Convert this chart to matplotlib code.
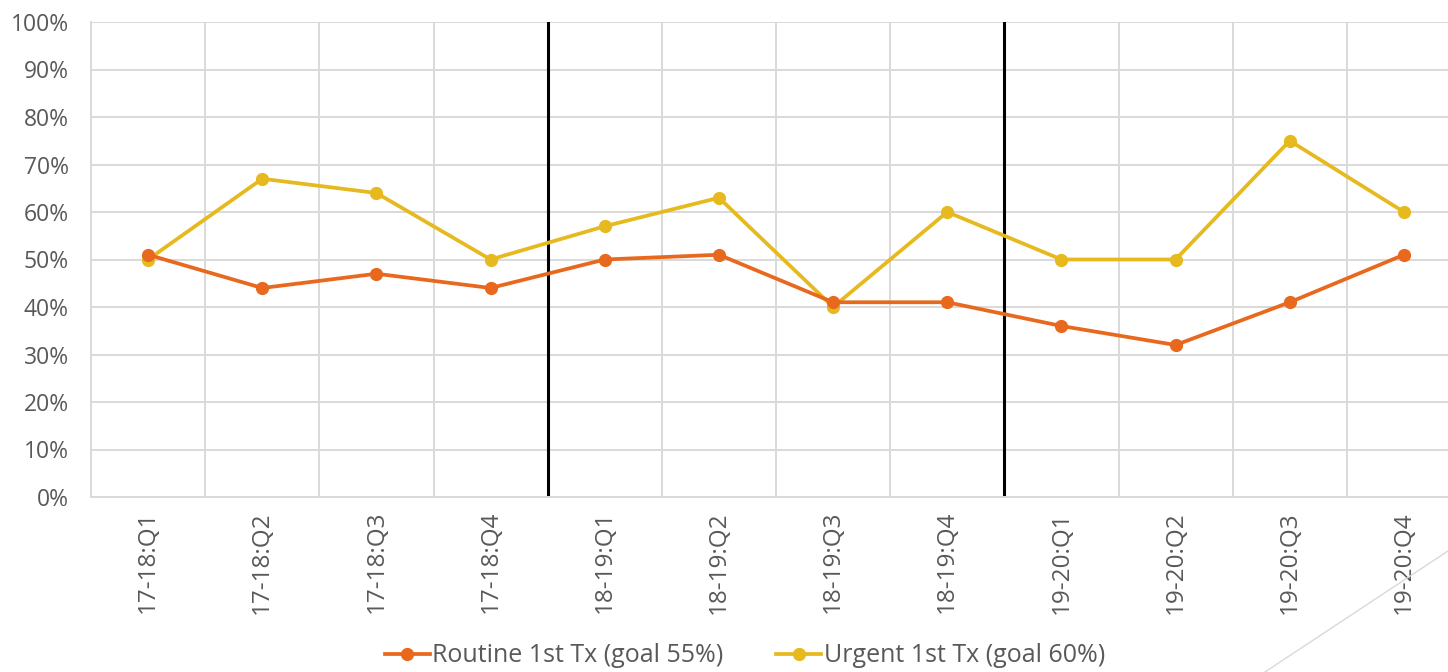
import matplotlib.pyplot as plt
from matplotlib.lines import Line2D
from matplotlib.ticker import PercentFormatter

quarters = ['17-18:Q1', '17-18:Q2', '17-18:Q3', '17-18:Q4',
            '18-19:Q1', '18-19:Q2', '18-19:Q3', '18-19:Q4',
            '19-20:Q1', '19-20:Q2', '19-20:Q3', '19-20:Q4']
routine = [51, 44, 47, 44, 50, 51, 41, 41, 36, 32, 41, 51]
urgent = [50, 67, 64, 50, 57, 63, 40, 60, 50, 50, 75, 60]

plt.rcParams['font.family'] = ['Open Sans', 'DejaVu Sans']

fig = plt.figure(figsize=(14.48, 6.72), dpi=100)
ax = fig.add_axes([91/1448, 1 - 497/672, 1370/1448, 475/672])

x = range(len(quarters))
ax.plot(x, routine, 'o-', color='#E8691E', lw=2.7, ms=8.5, label='Routine 1st Tx (goal 55%)', zorder=4)
ax.plot(x, urgent, 'o-', color='#E6B91E', lw=2.7, ms=8.5, label='Urgent 1st Tx (goal 60%)', zorder=3)

ax.set_xlim(-0.5, len(quarters) - 0.5)
ax.set_ylim(0, 100)
ax.set_yticks(range(0, 101, 10))
ax.yaxis.set_major_formatter(PercentFormatter(decimals=0))
ax.set_xticks(list(x))
ax.set_xticklabels(quarters, rotation=90)
ax.set_xticks([i + 0.5 for i in range(len(quarters) - 1)], minor=True)

ax.grid(axis='y', which='major', color='#D9D9D9', lw=1.4)
ax.grid(axis='x', which='minor', color='#D9D9D9', lw=1.4)
ax.set_axisbelow(True)
ax.tick_params(which='both', length=0)
ax.tick_params(axis='y', labelsize=16.5, labelcolor='#595959', pad=16)
ax.tick_params(axis='x', labelsize=17.5, labelcolor='#595959', pad=10)
for side in ['top', 'right']:
    ax.spines[side].set_visible(False)
for side in ['left', 'bottom']:
    ax.spines[side].set_color('#D9D9D9')
    ax.spines[side].set_linewidth(1.4)

# fiscal year separators
for xv in [3.5, 7.5]:
    ax.axvline(xv, color='black', lw=2.2, zorder=2)

leg = fig.legend(loc='center', bbox_to_anchor=(745/1448, 1 - 656/672), ncol=2, frameon=False,
                 fontsize=18, handlelength=1.8, handletextpad=0.1, columnspacing=2.1)
for t in leg.get_texts():
    t.set_color('#595959')

fig.add_artist(Line2D([1265/1448, 1.0], [0, 1 - 551/672], color='#D9D9D9', lw=1.0))

fig.savefig('out.png', dpi=100)
